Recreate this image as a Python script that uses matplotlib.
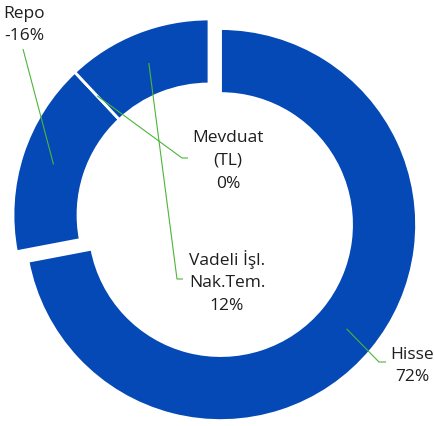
import matplotlib.pyplot as plt
import numpy as np

# portfolio breakdown
labels = ["Hisse", "Repo", "Mevduat\n(TL)", "Vadeli İşl.\nNak.Tem."]
values = [72, -16, 0, 12]
explode = [15, 0, 0, 0]  # pixels

blue = "#0449B5"
green = "#4DB53A"
txt_color = "#1E1E1E"

# label text positions (x, y in pixels, y down) and leader line elbows
label_pos = [(412, 366), (24, 25), (228, 161), (227, 282)]
elbows = [((379, 363), (386, 363)), ((23, 50), None), ((182, 159), (188, 159)), ((177, 280), (183, 280))]

plt.rcParams["font.family"] = ["Open Sans", "DejaVu Sans"]

fig = plt.figure(figsize=(4.34, 4.27), dpi=100)
ax = fig.add_axes([0, 0, 1, 1])

R = 196
width = 65
center = (209, 216)

sizes = np.abs(values)
wedges, _ = ax.pie(sizes, radius=R, center=center, startangle=270, counterclock=True,
                   explode=explode, colors=[blue] * 4,
                   wedgeprops=dict(width=width, edgecolor="white", linewidth=2))

ax.set_xlim(0, 434)
ax.set_ylim(427, 0)
ax.set_aspect("auto")
ax.axis("off")

for w, val, name, pos, (p1, p2) in zip(wedges, values, labels, label_pos, elbows):
    mid = np.deg2rad((w.theta1 + w.theta2) / 2)
    rm = w.r - w.width / 2
    ax_ = w.center[0] + rm * np.cos(mid)
    ay_ = w.center[1] + rm * np.sin(mid)
    xs = [ax_, p1[0]]
    ys = [ay_, p1[1]]
    if p2 is not None:
        xs.append(p2[0])
        ys.append(p2[1])
    ax.plot(xs, ys, color=green, lw=0.8, solid_capstyle="butt")
    ax.text(pos[0], pos[1], f"{name}\n{val}%", ha="center", va="center",
            multialignment="center", fontsize=12.5, color=txt_color, linespacing=1.55)

fig.savefig("out.png", dpi=100)
